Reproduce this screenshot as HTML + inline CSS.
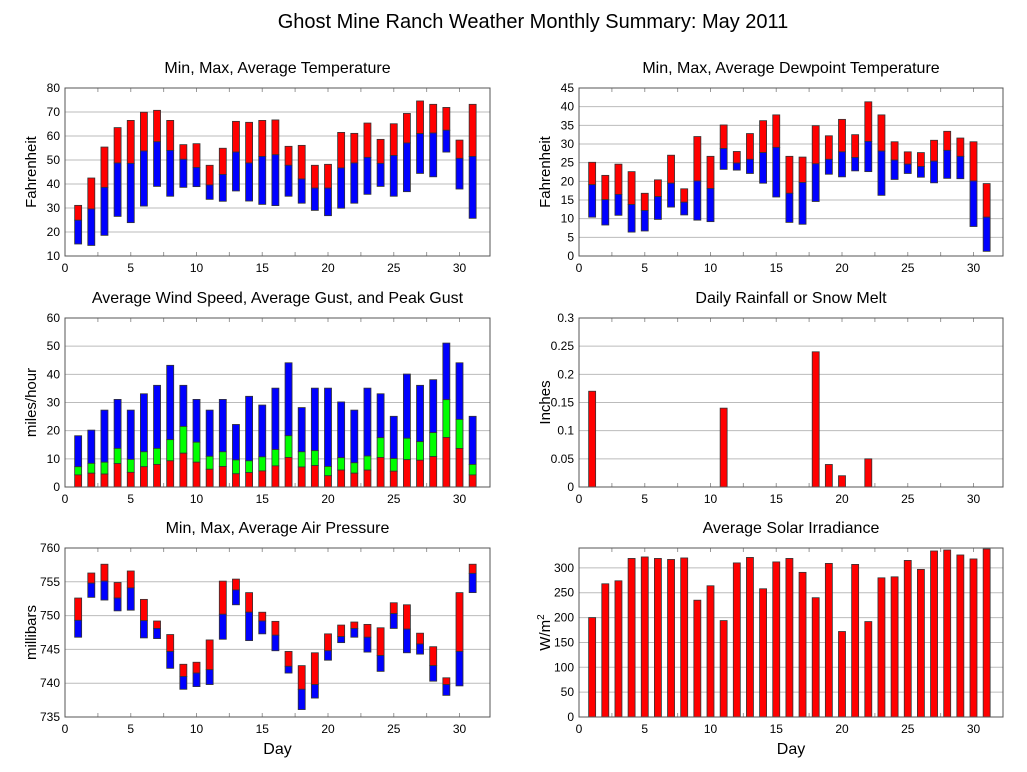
<!DOCTYPE html>
<html><head><meta charset="utf-8"><style>
body{margin:0;background:#fff}
svg{display:block;font-family:"Liberation Sans",sans-serif}
</style></head><body>
<svg id="c" width="1027" height="772" viewBox="0 0 1027 772" xmlns="http://www.w3.org/2000/svg">
<text x="533" y="28" font-size="20" text-anchor="middle">Ghost Mine Ranch Weather Monthly Summary: May 2011</text>
</svg>
<script>
const days = Array.from({length:31},(_, i)=>i+1);
const tempMax=[31.1,42.5,55.4,63.5,66.5,69.9,70.7,66.5,56.4,56.8,47.8,54.9,66.1,65.7,66.5,66.7,55.7,56.1,47.8,48.2,61.5,61.1,65.4,58.6,65.1,69.4,74.6,73.2,71.9,58.3,73.2];
const tempAvg=[24.9,29.6,38.6,48.75,48.6,53.75,57.6,54,50.3,46.9,39.6,44,53.3,48.75,51.5,52.2,47.8,42.1,38.3,38.3,46.7,48.75,51.1,48.6,51.9,57.1,61,61.25,62.4,50.7,51.5];
const tempMin=[15,14.4,18.6,26.5,23.9,30.8,39,34.9,38.6,38.9,33.6,32.8,37.1,32.9,31.5,31,34.9,32,29,26.8,29.9,32,35.7,39,34.9,36.8,44.4,43,53.3,37.9,25.7];
const dewMax=[25.1,21.6,24.6,22.6,16.8,20.4,27,18,32,26.7,35.1,28,32.8,36.25,37.8,26.7,26.5,34.9,32.2,36.6,32.5,41.3,37.8,30.6,27.9,27.7,31,33.4,31.6,30.6,19.4];
const dewAvg=[19.1,15.1,16.5,13.8,12.2,15.9,19.5,14.4,20.1,18.1,28.8,24.9,25.9,27.7,29.1,16.8,19.7,24.7,25.9,27.9,26.4,30.7,28.1,25.7,24.6,24,25.4,28.3,26.7,20.1,10.4];
const dewMin=[10.4,8.3,10.9,6.4,6.7,9.8,13.1,11,9.6,9.2,23.2,23,22.1,19.5,15.8,9,8.5,14.6,21.9,21.2,22.8,22.6,16.25,20.5,22.1,21.1,19.6,20.8,20.7,7.9,1.25];
const windAvg=[4.3,4.9,4.6,8.3,5.2,7.2,8,9.3,12,8.8,6.3,7.3,4.7,5.1,5.7,7.5,10.5,7.1,7.6,4,6,4.9,6,10.5,5.6,9.7,9.5,10.8,17.6,13.7,4.3];
const gustAvg=[7.2,8.4,8.8,13.7,9.8,12.5,13.7,16.8,21.5,15.9,10.9,12.5,9.6,9.3,10.7,13.3,18.2,12.5,12.9,7.3,10.4,8.6,11,17.5,10.1,17.3,16.1,19.3,31,24,8];
const gustPeak=[18.2,20.2,27.3,31.1,27.3,33.1,36.1,43.2,36.1,31.1,27.3,31.1,22.2,32.2,29.1,35.1,44.1,28.2,35.1,35.1,30.2,27.3,35.1,33.1,25.1,40.1,36.1,38.1,51.1,44.1,25.1];
const rain=[0.17,0,0,0,0,0,0,0,0,0,0.14,0,0,0,0,0,0,0.24,0.04,0.02,0,0.05,0,0,0,0,0,0,0,0,0];
const presMax=[752.6,756.3,757.6,754.9,756.6,752.4,749.2,747.2,742.8,743.1,746.4,755.1,755.4,753.4,750.5,749.15,744.7,742.6,744.5,747.3,748.6,749.05,748.7,748.2,751.9,751.6,747.4,745.4,740.8,753.4,757.6];
const presAvg=[749.3,754.8,755.1,752.6,754.1,749.25,748.1,744.7,741,741.5,742,750.2,753.8,750.5,749.2,747.1,742.5,739.1,739.8,744.8,746.9,748.1,746.8,744.1,750.3,748,745.8,742.6,739.8,744.7,756.25];
const presMin=[746.8,752.7,752.3,750.7,750.8,746.7,746.6,742.2,739.1,739.5,739.8,746.5,751.6,746.3,747.3,744.8,741.5,736.1,737.8,743.4,746,746.8,744.6,741.75,748.1,744.5,744.3,740.3,738.2,739.6,753.4];
const solar=[200,268,274,319,322,319,317,320,235,264,194,310,321,258,312,319,291,240,309,172,307,192,280,282,315,297,334,336,326,318,338];
const tempTicks=[10,20,30,40,50,60,70,80];
const dewTicks=[0,5,10,15,20,25,30,35,40,45];
const windTicks=[0,10,20,30,40,50,60];
const rainTicks=[0,0.05,0.1,0.15,0.2,0.25,0.3];
const rainLabels=["0","0.05","0.1","0.15","0.2","0.25","0.3"];
const presTicks=[735,740,745,750,755,760];
const solarTicks=[0,50,100,150,200,250,300];
const xTicks=[0,5,10,15,20,25,30];

const svg=document.getElementById('c');
const NS='http://www.w3.org/2000/svg';
function mk(tag,attrs,parent){const e=document.createElementNS(NS,tag);for(const k in attrs)e.setAttribute(k,attrs[k]);(parent||svg).appendChild(e);return e;}

function panel(o){
  const g=mk('g',{});
  
  
  const x=d=>o.x0+d*13.15;
  const y=v=>o.y1-(v-o.ymin)/(o.ymax-o.ymin)*(o.y1-o.y0);
  const t=mk('text',{x:(o.x0+o.x1)/2,y:o.y0-15,'font-size':16,'text-anchor':'middle'},g);
  t.textContent=o.title;
  
  
  o.yt.forEach((v,i)=>{
    const yy=y(v);
    if(v!==o.ymin&&yy>o.y0+0.5) mk('line',{x1:o.x0,x2:o.x1,y1:yy,y2:yy,stroke:'#bbb','stroke-width':1},g);
    const l=mk('text',{x:o.x0-5,y:yy+4,'font-size':12,'text-anchor':'end'},g);
    l.textContent=o.yl?o.yl[i]:v;
    
    
  });
  for(let d=2.5;d<32;d+=2.5){const xx=x(d);mk('line',{x1:xx,x2:xx,y1:o.y1,y2:o.y1-4,stroke:'#999'},g);mk('line',{x1:xx,x2:xx,y1:o.y0,y2:o.y0+4,stroke:'#999'},g);}
  xTicks.forEach(d=>{
    const l=mk('text',{x:x(d),y:o.y1+16,'font-size':12,'text-anchor':'middle'},g);
    l.textContent=d;
    
    
  });
  const yl=mk('text',{transform:`translate(${o.x0-29},${(o.y0+o.y1)/2}) rotate(-90)`,'font-size':15,'text-anchor':'middle'},g);
  yl.innerHTML=o.ylabel;
  
  
  if(o.xlabel){
    const xl=mk('text',{x:(o.x0+o.x1)/2,y:o.y1+37,'font-size':16,'text-anchor':'middle'},g);
    xl.textContent='Day';
    
    
  }
  o.segs.forEach(s=>{
    days.forEach((d,i)=>{
      const lo=s.lo?s.lo[i]:o.ymin, hi=s.hi[i];
      if(hi<=lo) return;
      const r=mk('rect',{x:x(d)-3.5,y:y(hi),width:7,height:y(lo)-y(hi),fill:s.c,stroke:'#333','stroke-width':0.8},g);
      
      
    });
  });
  mk('rect',{x:o.x0,y:o.y0,width:o.x1-o.x0,height:o.y1-o.y0,fill:'none',stroke:'#555','stroke-width':1},g);
}
const L=[65,490],R=[579,1003];
panel({name:'temperature-panel',title:'Min, Max, Average Temperature',x0:L[0],x1:L[1],y0:88,y1:256,ymin:10,ymax:80,yt:tempTicks,ylabel:'Fahrenheit',
  segs:[{n:'temp-max',c:'#f00',lo:tempAvg,hi:tempMax},{n:'temp-min',c:'#00f',lo:tempMin,hi:tempAvg}]});
panel({name:'dewpoint-panel',title:'Min, Max, Average Dewpoint Temperature',x0:R[0],x1:R[1],y0:88,y1:256,ymin:0,ymax:45,yt:dewTicks,ylabel:'Fahrenheit',
  segs:[{n:'dew-max',c:'#f00',lo:dewAvg,hi:dewMax},{n:'dew-min',c:'#00f',lo:dewMin,hi:dewAvg}]});
panel({name:'wind-panel',title:'Average Wind Speed, Average Gust, and Peak Gust',x0:L[0],x1:L[1],y0:318,y1:487,ymin:0,ymax:60,yt:windTicks,ylabel:'miles/hour',
  segs:[{n:'peak-gust',c:'#00f',lo:gustAvg,hi:gustPeak},{n:'avg-gust',c:'#0f0',lo:windAvg,hi:gustAvg},{n:'avg-wind',c:'#f00',hi:windAvg}]});
panel({name:'rain-panel',title:'Daily Rainfall or Snow Melt',x0:R[0],x1:R[1],y0:318,y1:487,ymin:0,ymax:0.3,yt:rainTicks,yl:rainLabels,ylabel:'Inches',
  segs:[{n:'rain',c:'#f00',hi:rain}]});
panel({name:'pressure-panel',title:'Min, Max, Average Air Pressure',x0:L[0],x1:L[1],y0:548,y1:717,ymin:735,ymax:760,yt:presTicks,ylabel:'millibars',xlabel:true,
  segs:[{n:'pres-max',c:'#f00',lo:presAvg,hi:presMax},{n:'pres-min',c:'#00f',lo:presMin,hi:presAvg}]});
panel({name:'solar-panel',title:'Average Solar Irradiance',x0:R[0],x1:R[1],y0:548,y1:717,ymin:0,ymax:340,yt:solarTicks,ylabel:'W/m<tspan dy="-6" font-size="10">2</tspan>',xlabel:true,
  segs:[{n:'solar',c:'#f00',hi:solar}]});
</script>
</body></html>
